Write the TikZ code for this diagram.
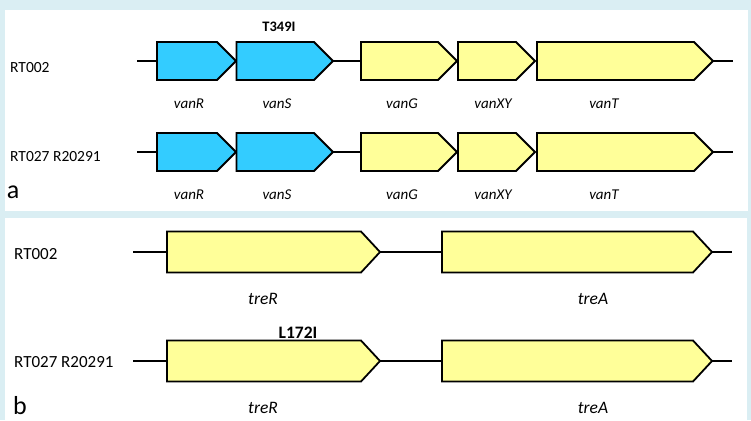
\documentclass[tikz,border=0pt]{standalone}
\usepackage{fontspec}
\setmainfont{Carlito}
\definecolor{bgblue}{HTML}{DAEEF3}
\definecolor{regblue}{HTML}{33CCFF}
\definecolor{geneyel}{HTML}{FFFF99}

% \genearrow{name}{x start}{x tip}{y centre}{half height}{fill}
\newcommand\genearrow[6]{%
  \draw[genebox,fill=#6] (#2,#4-#5) -- (#3-19,#4-#5) -- (#3,#4)
     -- (#3-19,#4+#5) -- (#2,#4+#5) -- cycle;
  \coordinate (#1-w) at (#2,#4);
  \coordinate (#1-e) at (#3,#4);
}

\tikzset{
  genebox/.style={draw=black,line width=1.8pt,line join=miter},
  spacer/.style={draw=black,line width=1.5pt},
  strain/.style={anchor=west,inner sep=0pt,font=\fontsize{15.5}{17}\selectfont},
  strainb/.style={anchor=west,inner sep=0pt,font=\fontsize{17}{19}\selectfont},
  gname/.style={inner sep=0pt,font=\fontsize{15}{17}\selectfont\itshape},
  gnameb/.style={inner sep=0pt,font=\fontsize{17.5}{19}\selectfont\itshape},
  mut/.style={inner sep=0pt,font=\fontsize{14.5}{16}\selectfont\bfseries},
  mutb/.style={inner sep=0pt,font=\fontsize{17.5}{19}\selectfont\bfseries},
  panel/.style={inner sep=0pt,anchor=base,font=\fontsize{26}{28}\selectfont},
}

\begin{document}
\begin{tikzpicture}[x=1pt,y=-1pt]
  \useasboundingbox (0,0) rectangle (751,420);
  \fill[bgblue] (0,0) rectangle (751,420);
  \fill[white] (5,10) rectangle (748,211);
  \fill[white] (5,218) rectangle (747,420);

  % ---------- panel a: van operon ----------
  \node[strain] (a1lab) at (10,68) {RT002};
  \node[strain] (a2lab) at (10,157) {RT027 R20291};
  \node[panel] (alab) at (13,198) {a};

  \foreach \r/\y in {a1/61, a2/152} {
    \coordinate (\r-start) at (137,\y);
    \coordinate (\r-end) at (733,\y);
    \genearrow{\r R}{157}{236}{\y}{19}{regblue}
    \genearrow{\r S}{236.5}{333}{\y}{19}{regblue}
    \genearrow{\r G}{361}{457}{\y}{19}{geneyel}
    \genearrow{\r XY}{458}{535}{\y}{19}{geneyel}
    \genearrow{\r T}{537}{713}{\y}{19}{geneyel}
    \draw[spacer] (\r-start) -- (\r R-w);
    \draw[spacer] (\r S-e) -- (\r G-w);
    \draw[spacer] (\r T-e) -- (\r-end);
  }

  \node[mut] (a1mut) at (279,27) {T349I};
  \foreach \r/\y in {a1/104, a2/195} {
    \node[gname] (\r Rn) at (189,\y) {vanR};
    \node[gname] (\r Sn) at (277,\y) {vanS};
    \node[gname] (\r Gn) at (402,\y) {vanG};
    \node[gname] (\r XYn) at (493,\y) {vanXY};
    \node[gname] (\r Tn) at (604,\y) {vanT};
  }

  % ---------- panel b: tre operon ----------
  \node[strainb] (b1lab) at (14,254) {RT002};
  \node[strainb] (b2lab) at (14,362) {RT027 R20291};
  \node[panel] (blab) at (20,414) {b};

  \foreach \r/\y in {b1/252, b2/361} {
    \coordinate (\r-start) at (133,\y);
    \coordinate (\r-end) at (732,\y);
    \genearrow{\r R}{167}{380}{\y}{20.5}{geneyel}
    \genearrow{\r A}{442}{712}{\y}{20.5}{geneyel}
    \draw[spacer] (\r-start) -- (\r R-w);
    \draw[spacer] (\r R-e) -- (\r A-w);
    \draw[spacer] (\r A-e) -- (\r-end);
  }

  \node[mutb] (b2mut) at (298,333) {L172I};
  \foreach \r/\y in {b1/299, b2/408} {
    \node[gnameb] (\r Rn) at (263,\y) {treR};
    \node[gnameb] (\r An) at (593,\y) {treA};
  }
\end{tikzpicture}
\end{document}
